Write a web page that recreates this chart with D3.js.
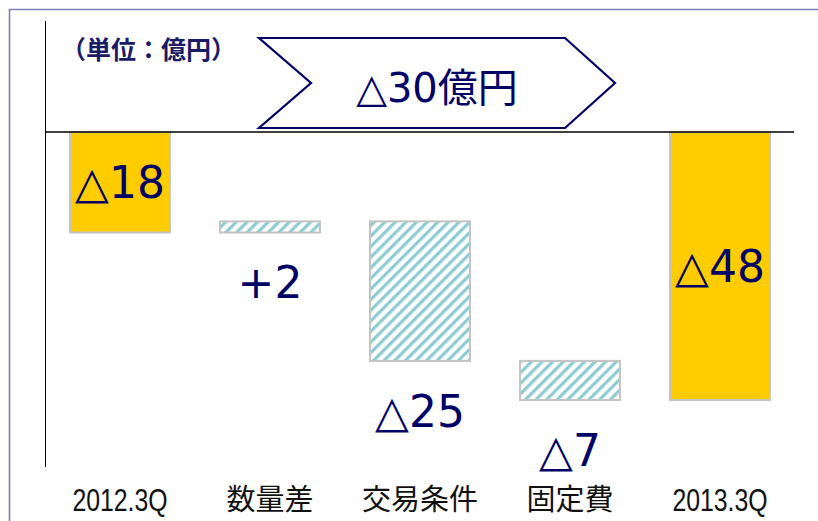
<!DOCTYPE html>
<html>
<head>
<meta charset="utf-8">
<script src="https://cdn.jsdelivr.net/npm/d3@7"></script>
<style>
  body { margin: 0; background: #fff; }
  svg { display: block; }
</style>
</head>
<body>
<div id="chart"></div>
<script>
// data
const categories = ["2012.3Q", "数量差", "交易条件", "固定費", "2013.3Q"];
const deltas = [-18, 2, -25, -7, -48];
const kinds = ["total", "step", "step", "step", "total"];
const valueLabels = ["△18", "+2", "△25", "△7", "△48"];
const labelSpots = ["inside", "below", "below", "below", "inside"];
const unitText = "（単位：億円）";
const arrowText = "△30億円";

const width = 818, height = 521;
const svg = d3.select("#chart").append("svg")
    .attr("width", width)
    .attr("height", height);

// hatch pattern
const defs = svg.append("defs");
defs.append("pattern")
    .attr("id", "hatch")
    .attr("patternUnits", "userSpaceOnUse")
    .attr("width", 7.5)
    .attr("height", 7.5)
    .attr("patternTransform", "rotate(45)")
  .call(p => {
    p.append("rect").attr("width", 7.5).attr("height", 7.5).attr("fill", "#fff");
    p.append("rect").attr("x", 0).attr("width", 3.2).attr("height", 7.5).attr("fill", "#8fcbd2");
  });

// frame
svg.append("path")
    .attr("d", `M9.5,${height} V9.5 H${width}`)
    .attr("fill", "none")
    .attr("stroke", "#7f7fb8")
    .attr("stroke-width", 1.6);

// waterfall: totals start at 0, steps start where the previous bar ended
let run = 0;
const bars = deltas.map((d, i) => {
  let start, end;
  if (kinds[i] === "total") {
    start = 0;
    end = i === 0 ? d : run;
  } else {
    start = run;
    end = run + d;
  }
  run = end;
  return {cat: categories[i], start, end, kind: kinds[i], label: valueLabels[i], spot: labelSpots[i]};
});

const x = d3.scaleBand().domain(categories).range([45, 795]).paddingInner(1 / 3).paddingOuter(1 / 6);
const y = d3.scaleLinear().domain([0, -48]).range([132, 400]);

// bars
svg.selectAll(".bar")
    .data(bars)
    .enter().append("rect")
    .attr("class", "bar")
    .attr("x", d => x(d.cat))
    .attr("width", x.bandwidth())
    .attr("y", d => y(Math.max(d.start, d.end)))
    .attr("height", d => Math.abs(y(d.end) - y(d.start)))
    .attr("fill", d => d.kind === "total" ? "#ffcc00" : "url(#hatch)")
    .attr("stroke", "#c4c4c4")
    .attr("stroke-width", 2);

// axis lines
svg.append("line")
    .attr("x1", 45.5).attr("x2", 45.5)
    .attr("y1", 21).attr("y2", 467)
    .attr("stroke", "#000").attr("stroke-width", 1);
svg.append("line")
    .attr("x1", 45).attr("x2", 794)
    .attr("y1", y(0)).attr("y2", y(0))
    .attr("stroke", "#000").attr("stroke-width", 1.5);

// value labels
svg.selectAll(".val")
    .data(bars)
    .enter().append("text")
    .attr("class", "val")
    .attr("x", d => x(d.cat) + x.bandwidth() / 2)
    .attr("y", d => d.spot === "inside"
        ? (y(d.start) + y(d.end)) / 2
        : y(Math.min(d.start, d.end)) + 50)
    .attr("dy", "0.36em")
    .attr("text-anchor", "middle")
    .attr("font-family", "'DejaVu Sans', 'Noto Sans CJK JP', sans-serif")
    .attr("font-size", 44)
    .attr("fill", "#000066")
    .text(d => d.label);

// category labels
const catFont = d => /^[0-9]/.test(d);
svg.selectAll(".cat")
    .data(categories)
    .enter().append("text")
    .attr("class", "cat")
    .attr("transform", d => `translate(${x(d) + x.bandwidth() / 2},500) scale(${catFont(d) ? 0.8 : 1},1)`)
    .attr("dy", "0.35em")
    .attr("text-anchor", "middle")
    .attr("font-family", d => catFont(d) ? "'Liberation Sans', Arial, sans-serif" : "'Noto Sans CJK JP', sans-serif")
    .attr("font-size", d => catFont(d) ? 31 : 29)
    .attr("fill", "#111")
    .text(d => d);

// unit label
svg.append("text")
    .attr("x", 61)
    .attr("y", 50)
    .attr("dy", "0.35em")
    .attr("font-family", "'Noto Sans CJK JP', sans-serif")
    .attr("font-weight", "bold")
    .attr("font-size", 25)
    .attr("fill", "#1a1a66")
    .text(unitText);

// chevron arrow
const ax0 = 259, ax1 = 565, atip = 615, ay0 = 38, ay1 = 128, amid = 83, anotch = 311;
svg.append("path")
    .attr("d", `M${ax0},${ay0} L${ax1},${ay0} L${atip},${amid} L${ax1},${ay1} L${ax0},${ay1} L${anotch},${amid} Z`)
    .attr("fill", "#fff")
    .attr("stroke", "#000066")
    .attr("stroke-width", 2.2);
svg.append("text")
    .attr("x", 437)
    .attr("y", 88)
    .attr("dy", "0.36em")
    .attr("text-anchor", "middle")
    .attr("font-family", "'DejaVu Sans', 'Noto Sans CJK JP', sans-serif")
    .attr("font-size", 40)
    .attr("fill", "#000066")
    .text(arrowText);
</script>
</body>
</html>
